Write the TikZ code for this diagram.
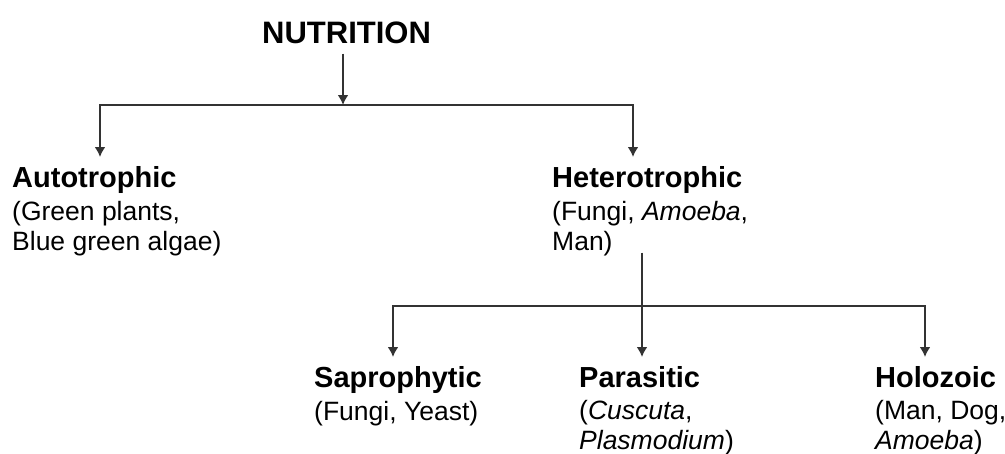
\documentclass[tikz,border=0pt]{standalone}
\usepackage{fontspec}
\setmainfont{Liberation Sans}
\usetikzlibrary{arrows.meta}
\tikzset{
  head/.style={font=\bfseries\fontsize{29}{31}\selectfont, anchor=base west, inner sep=0pt},
  title/.style={font=\bfseries\fontsize{31}{33}\selectfont, anchor=base west, inner sep=0pt},
  sub/.style={font=\fontsize{26.5}{29.5}\selectfont, align=left, anchor=base west, inner sep=0pt},
  arr/.style={draw=black!80, line width=2pt, -{Latex[length=10pt,width=11pt]}},
  link/.style={draw=black!80, line width=2pt}
}
\begin{document}
\begin{tikzpicture}[x=1pt,y=-1pt]
\useasboundingbox (0,0) rectangle (1005,453);
                % two-line texts sit on the baseline of their last line
                \node[title] (nutrition) at (262,43){NUTRITION};
                \node[head] (auto) at (12,187){Autotrophic};
                \node[sub] (autosub) at (12,250){(Green plants,\\Blue green algae)};
                \node[head] (hetero) at (552,187){Heterotrophic};
                \node[sub] (heterosub) at (552,250){(Fungi, \textit{Amoeba},\\Man)};
                \node[head] (sapro) at (314,387){Saprophytic};
                \node[sub] (saprosub) at (314,420){(Fungi, Yeast)};
                \node[head] (para) at (579,387){Parasitic};
                \node[sub] (parasub) at (579,449){(\textit{Cuscuta},\\\textit{Plasmodium})};
                \node[head] (holo) at (875,387){Holozoic};
                \node[sub] (holosub) at (875,449){(Man, Dog,\\\textit{Amoeba})};
                % junctions and arrow ends
                \coordinate (split1) at (343,105);
                \coordinate (autotip) at (100,157);
                \coordinate (heterotip) at (633,157);
                \coordinate (split2) at (642,306);
                \coordinate (saprotip) at (393,357);
                \coordinate (paratip) at (642,357);
                \coordinate (holotip) at (925,357);
                \draw[arr] (nutrition.south -| split1) ++(0,10) -- (split1);
                \draw[arr] (split1) -| (autotip);
                \draw[arr] (split1) -| (heterotip);
                \draw[link] (heterosub.south -| split2) ++(0,-3) -- (split2);
                \draw[arr] (split2) -- (paratip);
                \draw[arr] (split2) -| (saprotip);
                \draw[arr] (split2) -| (holotip);
\end{tikzpicture}
\end{document}
